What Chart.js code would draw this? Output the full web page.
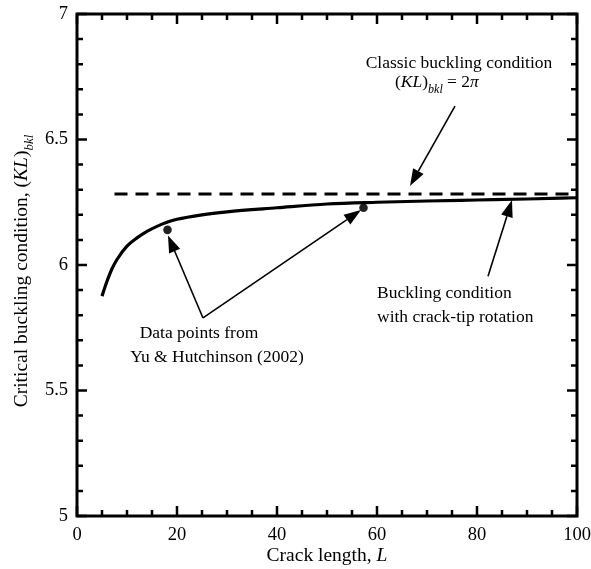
<!DOCTYPE html>
<html>
<head>
<meta charset="utf-8">
<script src="https://cdn.jsdelivr.net/npm/chart.js@4.4.1/dist/chart.umd.min.js"></script>
<style>
body { margin: 0; background: #fff; }
#wrap { width: 591px; height: 569px; }
</style>
</head>
<body>
<div id="wrap"><canvas id="myChart" width="591" height="569"></canvas></div>
<script>
// Buckling condition with crack-tip rotation
const crackLength = [5, 6, 7, 8, 10, 12, 14, 16, 18, 20, 25, 30, 40, 50, 60, 70, 80, 90, 100];
const bucklingCond = [5.876, 5.935, 5.985, 6.022, 6.075, 6.108, 6.134, 6.154, 6.17, 6.182, 6.2, 6.212, 6.228, 6.243, 6.25, 6.255, 6.259, 6.263, 6.268];

// Data points from Yu & Hutchinson (2002)
const refLength = [18.1, 57.3];
const refCond = [6.14, 6.228];

// Classic buckling condition (KL)bkl = 2pi
const classicLength = [7.5, 100];
const classicCond = 2 * Math.PI;

// Tick labels
const xTicks = [0, 20, 40, 60, 80, 100];
const yTicks = [5, 5.5, 6, 6.5, 7];

const FONT = '"Liberation Serif", "Times New Roman", serif';

// Annotations, placed in data coordinates
const arrows = [
    { from: [75.6, 6.633], to: [66.6, 6.315] },
    { from: [82.2, 5.955], to: [87.0, 6.259] },
    { from: [25.2, 5.789], to: [18.2, 6.118] },
    { from: [25.2, 5.789], to: [56.8, 6.219] }
];

const notes = [
    { at: [76.4, 6.805], align: 'center', parts: [{ t: 'Classic buckling condition' }] },
    { at: [63.6, 6.729], align: 'left', parts: [
        { t: '(' }, { t: 'KL', it: true }, { t: ')' },
        { t: 'bkl', it: true, size: 12, dy: 8 },
        { t: ' = 2' }, { t: '\u03c0', it: true }
    ] },
    { at: [60, 5.888], align: 'left', parts: [{ t: 'Buckling condition' }] },
    { at: [60, 5.793], align: 'left', parts: [{ t: 'with crack-tip rotation' }] },
    { at: [24.4, 5.729], align: 'center', parts: [{ t: 'Data points from' }] },
    { at: [28.0, 5.633], align: 'center', parts: [{ t: 'Yu & Hutchinson (2002)' }] }
];

// Draw a line of text made of parts with their own style
function drawRich(ctx, parts, x, y, align, baseSize) {
    const fontOf = p => (p.it ? 'italic ' : '') + (p.size || baseSize) + 'px ' + FONT;
    let total = 0;
    parts.forEach(p => { ctx.font = fontOf(p); total += ctx.measureText(p.t).width; });
    let cx = align === 'center' ? x - total / 2 : x;
    ctx.textAlign = 'left';
    ctx.textBaseline = 'middle';
    parts.forEach(p => {
        ctx.font = fontOf(p);
        ctx.fillText(p.t, cx, y + (p.dy || 0));
        cx += ctx.measureText(p.t).width;
    });
}

function drawArrow(ctx, x1, y1, x2, y2) {
    const ang = Math.atan2(y2 - y1, x2 - x1);
    const head = 17, half = 6;
    const bx = x2 - head * Math.cos(ang), by = y2 - head * Math.sin(ang);
    ctx.beginPath();
    ctx.moveTo(x1, y1);
    ctx.lineTo(bx, by);
    ctx.stroke();
    ctx.beginPath();
    ctx.moveTo(x2, y2);
    ctx.lineTo(bx + half * Math.sin(ang), by - half * Math.cos(ang));
    ctx.lineTo(bx - half * Math.sin(ang), by + half * Math.cos(ang));
    ctx.closePath();
    ctx.fill();
}

const framePlugin = {
    id: 'frame',
    afterDraw(chart) {
        const { ctx, chartArea: a, scales: { x, y } } = chart;
        ctx.save();
        ctx.strokeStyle = '#000';
        ctx.fillStyle = '#000';

        // inward ticks on all four sides
        ctx.lineWidth = 2.5;
        ctx.beginPath();
        for (let v = 0; v <= 100; v += 5) {
            const px = x.getPixelForValue(v);
            const len = v % 20 === 0 ? 10 : 6;
            ctx.moveTo(px, a.bottom); ctx.lineTo(px, a.bottom - len);
            ctx.moveTo(px, a.top); ctx.lineTo(px, a.top + len);
        }
        for (let i = 0; i <= 20; i++) {
            const py = y.getPixelForValue(5 + i * 0.1);
            const len = i % 5 === 0 ? 10 : 6;
            ctx.moveTo(a.left, py); ctx.lineTo(a.left + len, py);
            ctx.moveTo(a.right, py); ctx.lineTo(a.right - len, py);
        }
        ctx.stroke();

        // box
        ctx.lineWidth = 3;
        ctx.strokeRect(a.left, a.top, a.right - a.left, a.bottom - a.top);

        // arrows
        ctx.lineWidth = 1.6;
        arrows.forEach(ar => {
            drawArrow(ctx,
                x.getPixelForValue(ar.from[0]), y.getPixelForValue(ar.from[1]),
                x.getPixelForValue(ar.to[0]), y.getPixelForValue(ar.to[1]));
        });

        // notes
        notes.forEach(n => {
            drawRich(ctx, n.parts, x.getPixelForValue(n.at[0]), y.getPixelForValue(n.at[1]), n.align, 17.5);
        });

        // axis titles
        drawRich(ctx, [{ t: 'Crack length, ' }, { t: 'L', it: true }],
            (a.left + a.right) / 2, 556, 'center', 19.5);

        ctx.translate(22, 271);
        ctx.rotate(-Math.PI / 2);
        drawRich(ctx, [
            { t: 'Critical buckling condition, (' }, { t: 'KL', it: true }, { t: ')' },
            { t: 'bkl', it: true, size: 13, dy: 8 }
        ], 0, 0, 'center', 19.5);
        ctx.restore();
    }
};

const ctx = document.getElementById('myChart').getContext('2d');

const chart = new Chart(ctx, {
    type: 'scatter',
    data: {
        datasets: [
            {
                label: 'Buckling condition with crack-tip rotation',
                data: crackLength.map((l, i) => ({ x: l, y: bucklingCond[i] })),
                showLine: true,
                borderColor: '#000',
                borderWidth: 3.2,
                pointRadius: 0,
                cubicInterpolationMode: 'monotone'
            },
            {
                label: 'Classic buckling condition',
                data: classicLength.map(l => ({ x: l, y: classicCond })),
                showLine: true,
                borderColor: '#000',
                borderWidth: 3,
                borderDash: [13, 8],
                pointRadius: 0
            },
            {
                label: 'Yu & Hutchinson (2002)',
                data: refLength.map((l, i) => ({ x: l, y: refCond[i] })),
                showLine: false,
                pointRadius: 4.3,
                backgroundColor: '#222',
                borderColor: '#222',
                borderWidth: 0
            }
        ]
    },
    options: {
        responsive: false,
        animation: false,
        layout: { padding: { top: 14, right: 14, left: 0, bottom: 0 } },
        plugins: {
            legend: { display: false },
            tooltip: { enabled: false }
        },
        scales: {
            x: {
                type: 'linear',
                min: 0,
                max: 100,
                afterBuildTicks: s => { s.ticks = xTicks.map(v => ({ value: v })); },
                afterFit: s => { s.height = 53; s.paddingLeft = 0; s.paddingRight = 0; },
                grid: { display: false, drawTicks: false },
                border: { display: false },
                ticks: {
                    padding: 8,
                    color: '#000',
                    maxRotation: 0,
                    callback: v => String(v),
                    font: { family: FONT, size: 18.5 }
                }
            },
            y: {
                type: 'linear',
                min: 5,
                max: 7,
                afterBuildTicks: s => { s.ticks = yTicks.map(v => ({ value: v })); },
                afterFit: s => { s.width = 77; s.paddingTop = 0; s.paddingBottom = 0; },
                grid: { display: false, drawTicks: false },
                border: { display: false },
                ticks: {
                    padding: 9,
                    color: '#000',
                    callback: v => String(v),
                    font: { family: FONT, size: 18.5 }
                }
            }
        }
    },
    plugins: [framePlugin]
});
</script>
</body>
</html>
